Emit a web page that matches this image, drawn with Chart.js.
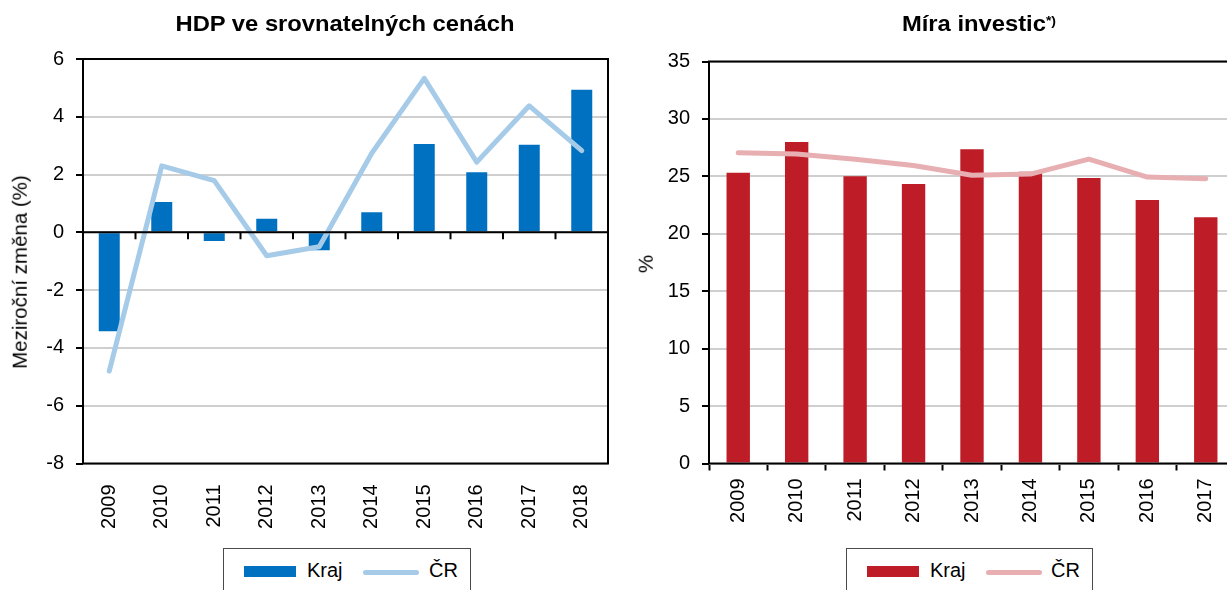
<!DOCTYPE html>
<html>
<head>
<meta charset="utf-8">
<script src="https://cdn.jsdelivr.net/npm/chart.js@4.4.1/dist/chart.umd.min.js"></script>
<style>
  html, body { margin:0; padding:0; background:#fff; overflow:hidden; width:1227px; height:590px; }
  body { position:relative; font-family:"Liberation Sans", Arial, sans-serif; color:#000; }
  canvas { position:absolute; top:0; }
  #c1 { left:0; }
  #c2 { left:620px; }
  .title { position:absolute; font-weight:bold; font-size:22px; line-height:22px; white-space:nowrap;
           transform:translateX(-50%) scaleX(1.08); }
  .title sup { font-size:13px; vertical-align:top; position:relative; top:-3px; }
  .ytitle { position:absolute; font-size:20.5px; line-height:20.5px; white-space:nowrap;
            transform:translate(-50%,-50%) rotate(-90deg); }
  .legend { position:absolute; top:548px; height:60px; border:1px solid #4a4a4a; box-sizing:border-box; background:#fff; }
  .legend .sw { position:absolute; top:17px; height:11px; }
  .legend .ln { position:absolute; top:21px; height:5px; border-radius:3px; }
  .legend .tx { position:absolute; top:11px; font-size:20px; line-height:20px; white-space:nowrap; }
</style>
</head>
<body>
<canvas id="c1" width="620" height="590"></canvas>
<canvas id="c2" width="630" height="590"></canvas>

<div class="title" id="t1" style="left:345px; top:13px;">HDP ve srovnatelných cenách</div>
<div class="title" id="t2" style="left:979px; top:13px;">Míra investic<sup>*)</sup></div>
<div class="ytitle" style="left:20px; top:272px;">Meziroční změna (%)</div>
<div class="ytitle" style="left:646px; top:264px;">%</div>

<div class="legend" style="left:223px; width:248px;">
  <div class="sw" style="left:20px; width:52px; background:#0070C0;"></div>
  <div class="tx" style="left:83px;">Kraj</div>
  <div class="ln" style="left:139px; width:56px; background:#A6CBE8;"></div>
  <div class="tx" style="left:205px;">ČR</div>
</div>
<div class="legend" style="left:846px; width:247px;">
  <div class="sw" style="left:20px; width:52px; background:#BE1C26;"></div>
  <div class="tx" style="left:83px;">Kraj</div>
  <div class="ln" style="left:139px; width:56px; background:#E7AFB2;"></div>
  <div class="tx" style="left:204px;">ČR</div>
</div>

<script>
// ---- Data ----
const yearsHdp = ['2009','2010','2011','2012','2013','2014','2015','2016','2017','2018'];
const krajHdp  = [-3.42, 1.05, -0.30, 0.47, -0.62, 0.70, 3.06, 2.08, 3.03, 4.94];
const crHdp    = [-4.80, 2.30, 1.79, -0.81, -0.50, 2.74, 5.33, 2.43, 4.38, 2.83];
const hdpMin = -8, hdpMax = 6, hdpStep = 2;

const yearsInv = ['2009','2010','2011','2012','2013','2014','2015','2016','2017'];
const krajInv  = [25.32, 28.00, 25.00, 24.33, 27.37, 25.40, 24.86, 22.95, 21.44];
const crInv    = [27.05, 26.94, 26.48, 25.95, 25.09, 25.20, 26.50, 24.94, 24.80];
const invMin = 0, invMax = 35, invStep = 5;

const FONT = '"Liberation Sans", Arial, sans-serif';

// frame + optional zero line with category ticks
const framePlugin = {
  id: 'frame',
  afterDatasetsDraw(chart, args, opts) {
    const ctx = chart.ctx, a = chart.chartArea;
    ctx.save();
    ctx.strokeStyle = '#000';
    ctx.lineWidth = 2;
    if (opts.zeroLine) {
      const y0 = chart.scales.y.getPixelForValue(0);
      ctx.beginPath();
      ctx.moveTo(a.left, y0); ctx.lineTo(a.right, y0);
      const xs = chart.scales.x;
      const n = xs.ticks.length;
      for (let i = 1; i < n; i++) {
        const bx = (xs.getPixelForValue(i - 1) + xs.getPixelForValue(i)) / 2;
        ctx.moveTo(bx, y0); ctx.lineTo(bx, y0 + 7);
      }
      ctx.stroke();
    }
    ctx.strokeRect(a.left, a.top, a.right - a.left, a.bottom - a.top);
    ctx.restore();
  }
};

function makeChart(id, labels, barData, lineData, barColor, lineColor, yMin, yMax, yStep, geom, zeroLine) {
  return new Chart(document.getElementById(id), {
    data: {
      labels: labels,
      datasets: [
        { type: 'line', label: 'ČR', data: lineData, borderColor: lineColor, backgroundColor: lineColor,
          borderWidth: 5, pointRadius: 0, pointHoverRadius: 0, tension: 0,
          borderCapStyle: 'round', borderJoinStyle: 'round', order: 0 },
        { type: 'bar', label: 'Kraj', data: barData, backgroundColor: barColor, borderWidth: 0,
          barPercentage: 0.4, categoryPercentage: 1.0, order: 1 }
      ]
    },
    options: {
      responsive: false,
      animation: false,
      devicePixelRatio: 1,
      events: [],
      layout: { padding: { top: geom.top, left: 0, right: geom.right, bottom: 0 } },
      plugins: { legend: { display: false }, title: { display: false }, tooltip: { enabled: false },
                 frame: { zeroLine: zeroLine } },
      scales: {
        x: {
          offset: true,
          grid: { display: !zeroLine, drawOnChartArea: false, offset: true, tickLength: 7,
                  tickColor: '#000', tickWidth: 2, color: '#000' },
          border: { display: false },
          ticks: { minRotation: 90, maxRotation: 90, autoSkip: false, padding: zeroLine ? 14 : 8,
                   color: '#000', font: { family: FONT, size: 20 } },
          afterFit(s) { s.height = geom.xh; s.paddingLeft = 0; s.paddingRight = 0; }
        },
        y: {
          min: yMin, max: yMax,
          grid: { color: '#CFCFCF', lineWidth: 2, tickLength: 7, tickColor: '#000', tickWidth: 2 },
          border: { display: false },
          ticks: { stepSize: yStep, padding: 12, color: '#000', font: { family: FONT, size: 20 } },
          afterFit(s) { s.width = geom.yw; s.paddingTop = 0; s.paddingBottom = 0; }
        }
      }
    },
    plugins: [framePlugin]
  });
}

makeChart('c1', yearsHdp, krajHdp, crHdp, '#0070C0', '#A6CBE8', hdpMin, hdpMax, hdpStep,
          { top: 59, right: 12, xh: 126.5, yw: 83 }, true);
makeChart('c2', yearsInv, krajInv, crInv, '#BE1C26', '#E7AFB2', invMin, invMax, invStep,
          { top: 61.5, right: 15, xh: 126.5, yw: 89 }, false);
</script>
</body>
</html>
